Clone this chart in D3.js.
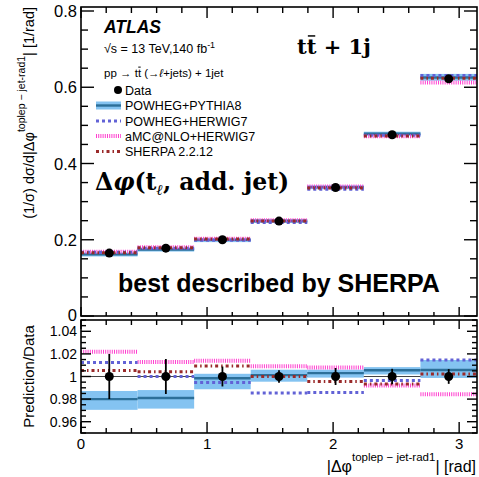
<!DOCTYPE html>
<html><head><meta charset="utf-8">
<script src="https://cdn.jsdelivr.net/npm/d3@7"></script>
<style>
body{margin:0;background:#fff}
svg{display:block}
text{font-family:"Liberation Sans",Arial,Helvetica,sans-serif;fill:#000}
text.serif{font-family:"DejaVu Serif",serif}
</style>
</head><body>
<svg id="chart" width="479" height="477"></svg>
<script>
// Binning of |Δφ(toplep, jet-rad1)| : 7 equal bins over [0, π]
const binEdges = [0, Math.PI/7, 2*Math.PI/7, 3*Math.PI/7, 4*Math.PI/7, 5*Math.PI/7, 6*Math.PI/7, Math.PI];

// Unfolded normalised cross-section (1/rad)
const dataValues = [0.165, 0.178, 0.200, 0.249, 0.337, 0.4755, 0.622];
// Relative data uncertainty (shown in the ratio panel)
const dataRelErr = [0.020, 0.0155, 0.0088, 0.0055, 0.0075, 0.0068, 0.0065];

// Prediction / Data
const ratioPP8    = [0.980, 0.981, 0.9985, 1.0012, 1.0030, 1.0055, 1.0058];
const ratioPP8Lo  = [0.9705, 0.9716, 0.9887, 0.9954, 0.9990, 1.0018, 0.9987];
const ratioPP8Hi  = [0.9872, 0.9880, 1.0024, 1.0060, 1.0060, 1.0083, 1.0146];
const ratioHW7    = [1.0123, 1.0000, 0.9948, 0.9855, 0.9858, 0.9965, 1.0146];
const ratioAMC    = [1.0218, 1.0128, 1.0140, 1.0090, 1.0080, 0.9920, 0.9842];
const ratioSherpa = [1.0052, 1.0043, 1.0093, 1.0000, 0.9956, 0.9934, 1.0022];

const mainTicks  = [0, 0.2, 0.4, 0.6, 0.8];
const ratioTicks = [0.96, 0.98, 1, 1.02, 1.04];
const xTicks     = [0, 1, 2, 3];

const legendLabels = ["Data", "POWHEG+PYTHIA8", "POWHEG+HERWIG7", "aMC@NLO+HERWIG7", "SHERPA 2.2.12"];

const colPP8Band = "#84c3f1", colPP8Line = "#2c6f99";
const colHW7 = "#6262d6", colAMC = "#ff3fcf", colSherpa = "#9a2a2a";

const svg = d3.select("#chart");
const L = 81, R = 477;
const mainTop = 7, mainBot = 316, ratTop = 320, ratBot = 433;

const x = d3.scaleLinear().domain([0, Math.PI]).range([L, R]);
const y = d3.scaleLinear().domain([0, 0.8105]).range([mainBot, mainTop]);
const yr = d3.scaleLinear().domain([0.95, 1.05]).range([ratBot, ratTop]);

const bins = dataValues.map((v, i) => ({
  i, x0: binEdges[i], x1: binEdges[i+1], xc: (binEdges[i] + binEdges[i+1]) / 2, v
}));

const styles = {
  pp8:    {stroke: colPP8Line, width: 2.4, dash: null},
  hw7:    {stroke: colHW7, width: 3, dash: "3,3"},
  amc:    {stroke: colAMC, width: 4, dash: "1,1.2"},
  sherpa: {stroke: colSherpa, width: 3, dash: "3,3,1.5,3"}
};

function segs(g, sc, vals, st) {
  g.append("g").selectAll("line").data(bins).join("line")
    .attr("x1", d => x(d.x0)).attr("x2", d => x(d.x1))
    .attr("y1", d => sc(vals[d.i])).attr("y2", d => sc(vals[d.i]))
    .attr("stroke", st.stroke).attr("stroke-width", st.width)
    .attr("stroke-dasharray", st.dash);
}

// ---------- main panel ----------
const gMain = svg.append("g");
const mainPP8 = ratioPP8.map((r, i) => r * dataValues[i]);
gMain.append("g").selectAll("rect").data(bins).join("rect")
  .attr("x", d => x(d.x0)).attr("width", d => x(d.x1) - x(d.x0))
  .attr("y", d => y(ratioPP8Hi[d.i] * d.v) - 1.5)
  .attr("height", d => Math.abs(y(ratioPP8Lo[d.i] * d.v) - y(ratioPP8Hi[d.i] * d.v)) + 3)
  .attr("fill", colPP8Band);
segs(gMain, y, mainPP8, styles.pp8);
segs(gMain, y, ratioAMC.map((r, i) => r * dataValues[i]), styles.amc);
segs(gMain, y, ratioHW7.map((r, i) => r * dataValues[i]), styles.hw7);
segs(gMain, y, ratioSherpa.map((r, i) => r * dataValues[i]), styles.sherpa);
gMain.append("g").selectAll("line").data(bins).join("line")
  .attr("x1", d => x(d.xc)).attr("x2", d => x(d.xc))
  .attr("y1", d => y(d.v * (1 + dataRelErr[d.i]))).attr("y2", d => y(d.v * (1 - dataRelErr[d.i])))
  .attr("stroke", "#000").attr("stroke-width", 2);
gMain.append("g").selectAll("circle").data(bins).join("circle")
  .attr("cx", d => x(d.xc)).attr("cy", d => y(d.v)).attr("r", 4.5).attr("fill", "#000");

// ---------- ratio panel ----------
const gRat = svg.append("g");
gRat.append("line").attr("x1", L).attr("x2", R).attr("y1", yr(1)).attr("y2", yr(1))
  .attr("stroke", "#444").attr("stroke-width", 1);
gRat.append("g").selectAll("rect").data(bins).join("rect")
  .attr("x", d => x(d.x0)).attr("width", d => x(d.x1) - x(d.x0))
  .attr("y", d => yr(ratioPP8Hi[d.i]))
  .attr("height", d => yr(ratioPP8Lo[d.i]) - yr(ratioPP8Hi[d.i]))
  .attr("fill", colPP8Band);
segs(gRat, yr, ratioPP8, styles.pp8);
segs(gRat, yr, ratioAMC, styles.amc);
segs(gRat, yr, ratioHW7, styles.hw7);
segs(gRat, yr, ratioSherpa, styles.sherpa);
gRat.append("g").selectAll("line").data(bins).join("line")
  .attr("x1", d => x(d.xc)).attr("x2", d => x(d.xc))
  .attr("y1", d => yr(1 + dataRelErr[d.i])).attr("y2", d => yr(1 - dataRelErr[d.i]))
  .attr("stroke", "#000").attr("stroke-width", 1.8);
gRat.append("g").selectAll("circle").data(bins).join("circle")
  .attr("cx", d => x(d.xc)).attr("cy", yr(1)).attr("r", 4.5).attr("fill", "#000");

// ---------- frames and inward ticks ----------
function frame(top, bot) {
  svg.append("rect").attr("x", L).attr("y", top).attr("width", R - L).attr("height", bot - top)
    .attr("fill", "none").attr("stroke", "#000").attr("stroke-width", 1.6);
}
frame(mainTop, mainBot);
frame(ratTop, ratBot);

function xTickMarks(top, bot, majT, minT, majB, minB) {
  const minors = d3.range(0, 3.15, 0.2).filter(v => v <= Math.PI);
  minors.forEach(v => {
    const isMaj = Math.abs(v - Math.round(v)) < 1e-6;
    const px = x(v);
    svg.append("line").attr("x1", px).attr("x2", px).attr("y1", bot).attr("y2", bot - (isMaj ? majB : minB))
      .attr("stroke", "#000").attr("stroke-width", 1.4);
    svg.append("line").attr("x1", px).attr("x2", px).attr("y1", top).attr("y2", top + (isMaj ? majT : minT))
      .attr("stroke", "#000").attr("stroke-width", 1.4);
  });
}
xTickMarks(mainTop, mainBot, 11, 6, 9, 4);
xTickMarks(ratTop, ratBot, 9, 5, 11, 5);

function yTickMarks(sc, lo, hi, step, majStep, majLen, minLen) {
  const n = Math.round((hi - lo) / step);
  for (let k = 0; k <= n; k++) {
    const v = lo + k * step;
    const isMaj = Math.abs(v / majStep - Math.round(v / majStep)) < 1e-6;
    const py = sc(v);
    const len = isMaj ? majLen : minLen;
    svg.append("line").attr("x1", L).attr("x2", L + len).attr("y1", py).attr("y2", py)
      .attr("stroke", "#000").attr("stroke-width", 1.4);
    svg.append("line").attr("x1", R).attr("x2", R - len).attr("y1", py).attr("y2", py)
      .attr("stroke", "#000").attr("stroke-width", 1.4);
  }
}
yTickMarks(y, 0, 0.80001, 0.05, 0.2, 13, 7);
yTickMarks(yr, 0.95, 1.05, 0.005, 0.02, 10, 5);

// ---------- tick labels ----------
svg.append("g").selectAll("text").data(mainTicks).join("text")
  .attr("x", 77).attr("y", d => y(d) + (d === 0 ? 4.5 : 6)).attr("text-anchor", "end")
  .attr("font-size", 16.5).text(d => d3.format("~g")(d));
svg.append("g").selectAll("text").data(ratioTicks).join("text")
  .attr("x", 77).attr("y", d => yr(d) + 5).attr("text-anchor", "end")
  .attr("font-size", 14).text(d => d3.format("~g")(d));
svg.append("g").selectAll("text").data(xTicks).join("text")
  .attr("x", d => x(d)).attr("y", 449).attr("text-anchor", "middle")
  .attr("font-size", 15).text(d => d);

// ---------- axis titles ----------
const yt = svg.append("text").attr("transform", "translate(34,7) rotate(-90)")
  .attr("text-anchor", "end").attr("font-size", 14.5);
yt.append("tspan").text("(1/σ) dσ/d|Δφ");
yt.append("tspan").attr("dy", -9).attr("font-size", 10.5).text("toplep − jet-rad1");
yt.append("tspan").attr("dy", 9).text("| [1/rad]");

svg.append("text").attr("transform", `translate(34,${(ratTop + ratBot) / 2}) rotate(-90)`)
  .attr("text-anchor", "middle").attr("font-size", 15).text("Prediction/Data");

const xt = svg.append("text").attr("x", 476).attr("y", 472).attr("text-anchor", "end").attr("font-size", 16);
xt.append("tspan").text("|Δφ");
xt.append("tspan").attr("dy", -11).attr("font-size", 11.5).text("toplep − jet-rad1");
xt.append("tspan").attr("dy", 11).text("| [rad]");

// bar over one character of a text element
function barOver(textSel, idx, fs, lift) {
  const node = textSel.node();
  const ext = node.getExtentOfChar(idx);
  const base = +textSel.attr("y");
  svg.append("line")
    .attr("x1", ext.x + ext.width * 0.12).attr("x2", ext.x + ext.width * 0.88)
    .attr("y1", base - fs * lift).attr("y2", base - fs * lift)
    .attr("stroke", "#000").attr("stroke-width", Math.max(1, fs * 0.07));
}

// ---------- labels inside the main panel ----------
svg.append("text").attr("x", 104).attr("y", 33).attr("font-size", 17.5)
  .attr("font-weight", "bold").attr("font-style", "italic").text("ATLAS");
const en = svg.append("text").attr("x", 104).attr("y", 53).attr("font-size", 12.5);
en.append("tspan").text("√s = 13 TeV,140 fb");
en.append("tspan").attr("dy", -5).attr("font-size", 9).text("-1");
const proc = svg.append("text").attr("x", 104).attr("y", 77).attr("font-size", 11.5);
proc.append("tspan").text("pp → tt (→");
proc.append("tspan").attr("font-style", "italic").text("ℓ");
proc.append("tspan").text("+jets) + 1jet");
barOver(proc, 6, 11.5, 0.86);

const ttj = svg.append("text").attr("class", "serif").attr("x", 297).attr("y", 54)
  .attr("font-weight", "bold").attr("font-size", 21).text("tt + 1j");
barOver(ttj, 1, 21, 0.86);

const obs = svg.append("text").attr("class", "serif").attr("x", 95).attr("y", 190)
  .attr("font-weight", "bold").attr("font-size", 23.5);
obs.append("tspan").text("Δ");
obs.append("tspan").attr("font-style", "italic").text("φ");
obs.append("tspan").text("(t");
obs.append("tspan").attr("dy", 5).attr("font-size", 15).attr("font-style", "italic").text("ℓ");
obs.append("tspan").attr("dy", -5).text(", add. jet)");

svg.append("text").attr("x", 118).attr("y", 292).attr("font-size", 25)
  .attr("font-weight", "bold").text("best described by SHERPA");

// ---------- legend ----------
const legY = [90, 105.5, 121, 136, 151.5];
const lg = svg.append("g");
lg.append("circle").attr("cx", 118).attr("cy", legY[0]).attr("r", 4).attr("fill", "#000");
lg.append("rect").attr("x", 96).attr("y", legY[1] - 4).attr("width", 25).attr("height", 8).attr("fill", colPP8Band);
const legStyles = [null, styles.pp8, styles.hw7, styles.amc, styles.sherpa];
legStyles.forEach((st, k) => {
  if (!st) return;
  lg.append("line").attr("x1", 96).attr("x2", 121).attr("y1", legY[k]).attr("y2", legY[k])
    .attr("stroke", st.stroke).attr("stroke-width", st.width).attr("stroke-dasharray", st.dash);
});
lg.selectAll("text").data(legendLabels).join("text")
  .attr("x", 125).attr("y", (d, k) => legY[k] + 4.5).attr("font-size", 12.5).text(d => d);
</script>
</body></html>
